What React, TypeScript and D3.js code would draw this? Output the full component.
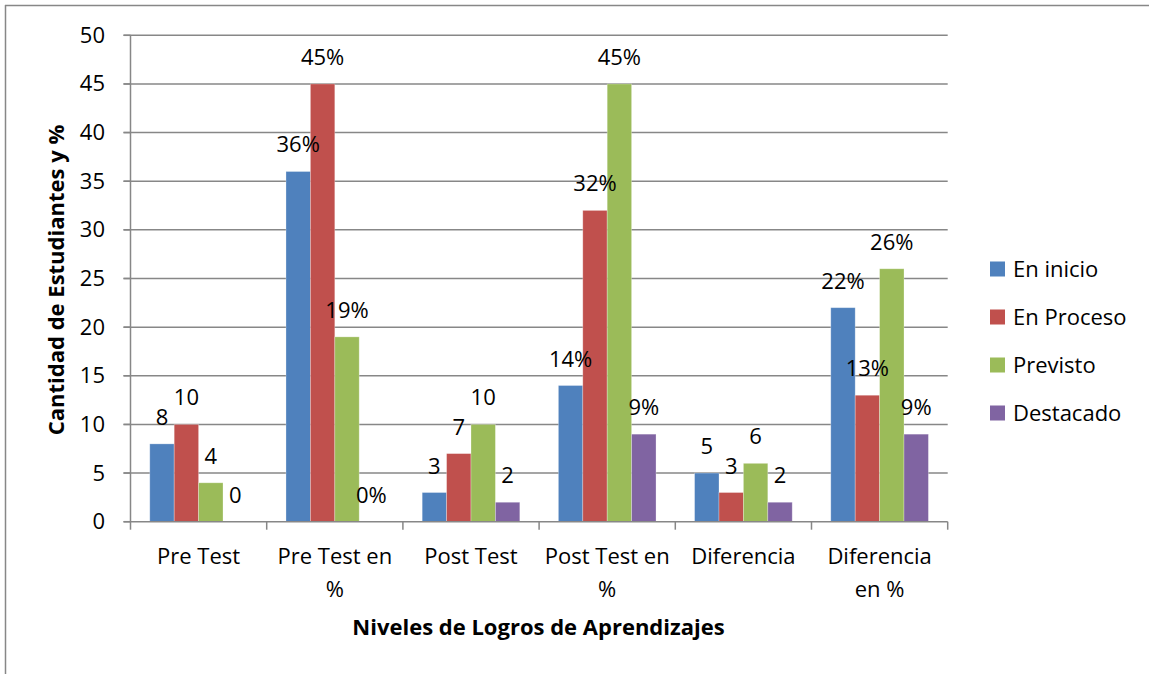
import React from "react";
import * as d3 from "d3";

const categories = ["Pre Test", "Pre Test en %", "Post Test", "Post Test en %", "Diferencia", "Diferencia en %"];
const categoryLines = [["Pre Test"], ["Pre Test en", "%"], ["Post Test"], ["Post Test en", "%"], ["Diferencia"], ["Diferencia", "en %"]];
const isPercent = [false, true, false, true, false, true];
const seriesNames = ["En inicio", "En Proceso", "Previsto", "Destacado"];
const enInicio = [8, 36, 3, 14, 5, 22];
const enProceso = [10, 45, 7, 32, 3, 13];
const previsto = [4, 19, 10, 45, 6, 26];
const destacado = [0, 0, 2, 9, 2, 9];
const yTicks = [0, 5, 10, 15, 20, 25, 30, 35, 40, 45, 50];
const colors = ["#4F81BD", "#C0504D", "#9BBB59", "#8064A2"];
const yTitle = "Cantidad de Estudiantes y %";
const xTitle = "Niveles de Logros de Aprendizajes";

const seriesValues = [enInicio, enProceso, previsto, destacado];

export default function App() {
  const W = 1149, H = 674;
  const left = 130.5, right = 947.7, top = 35.3, bottom = 521.7;
  const font = "'Open Sans', Lato, sans-serif";
  const fs = 22;
  const axisColor = "#878787";

  const x = d3.scaleBand<string>().domain(categories).range([left, right]).paddingInner(0).paddingOuter(0);
  const inner = d3.scaleBand<string>().domain(seriesNames).range([0, x.bandwidth()]).paddingInner(0).paddingOuter(0.79);
  const y = d3.scaleLinear().domain([0, 50]).range([bottom, top]);

  return (
    <svg width={W} height={H} style={{ position: "absolute", left: 0, top: 0, background: "#fff" }} fontFamily={font}>
      {/* outer border */}
      <line x1={5} y1={5.5} x2={W} y2={5.5} stroke={axisColor} strokeWidth={1.5} />
      <line x1={5.5} y1={5} x2={5.5} y2={H} stroke={axisColor} strokeWidth={1.5} />

      {/* gridlines */}
      {yTicks.filter((t) => t > 0).map((t) => (
        <line key={"g" + t} x1={left - 7} x2={right} y1={y(t)} y2={y(t)} stroke={axisColor} strokeWidth={1.5} />
      ))}

      {/* bars */}
      {categories.map((c, ci) => (
        <g key={c} transform={`translate(${x(c)},0)`}>
          {seriesNames.map((s, si) => {
            const v = seriesValues[si][ci];
            return (
              <rect key={s} x={inner(s)} y={y(v)} width={inner.bandwidth()} height={bottom - y(v)} fill={colors[si]} stroke="#ffffff" strokeOpacity={0.35} strokeWidth={0.8} />
            );
          })}
          {seriesNames.map((s, si) => {
            const v = seriesValues[si][ci];
            return (
              <text key={"l" + s} x={(inner(s) as number) + inner.bandwidth() / 2} y={y(v) - 19} textAnchor="middle" fontSize={fs} fill="#000">
                {isPercent[ci] ? `${v}%` : `${v}`}
              </text>
            );
          })}
        </g>
      ))}

      {/* y axis */}
      <line x1={left} x2={left} y1={top} y2={bottom} stroke={axisColor} strokeWidth={1.5} />
      {yTicks.map((t) => (
        <g key={"t" + t}>
          <line x1={left - 7} x2={left} y1={y(t)} y2={y(t)} stroke={axisColor} strokeWidth={1.5} />
          <text x={105} y={y(t) + 7.5} textAnchor="end" fontSize={fs} fill="#000">{t}</text>
        </g>
      ))}

      {/* x axis */}
      <line x1={left - 7} x2={right} y1={bottom} y2={bottom} stroke={axisColor} strokeWidth={1.5} />
      {[...categories.map((c) => x(c) as number), right].map((px, i) => (
        <line key={"xt" + i} x1={px} x2={px} y1={bottom} y2={bottom + 8} stroke={axisColor} strokeWidth={1.5} />
      ))}
      {categories.map((c, ci) => (
        <text key={"cl" + c} textAnchor="middle" fontSize={fs} fill="#000">
          {categoryLines[ci].map((ln, li) => (
            <tspan key={li} x={(x(c) as number) + x.bandwidth() / 2} y={564 + li * 33}>{ln}</tspan>
          ))}
        </text>
      ))}

      {/* axis titles */}
      <text x={538.5} y={635} textAnchor="middle" fontSize={fs} fontWeight="bold" fill="#000">{xTitle}</text>
      <text transform="translate(64,280) rotate(-90)" textAnchor="middle" fontSize={fs} fontWeight="bold" fill="#000">{yTitle}</text>

      {/* legend */}
      {seriesNames.map((s, si) => (
        <g key={"lg" + s} transform={`translate(990,${269 + si * 48})`}>
          <rect x={0} y={-7.5} width={15} height={15} fill={colors[si]} />
          <text x={23} y={7.5} fontSize={fs} fill="#000">{s}</text>
        </g>
      ))}
    </svg>
  );
}
